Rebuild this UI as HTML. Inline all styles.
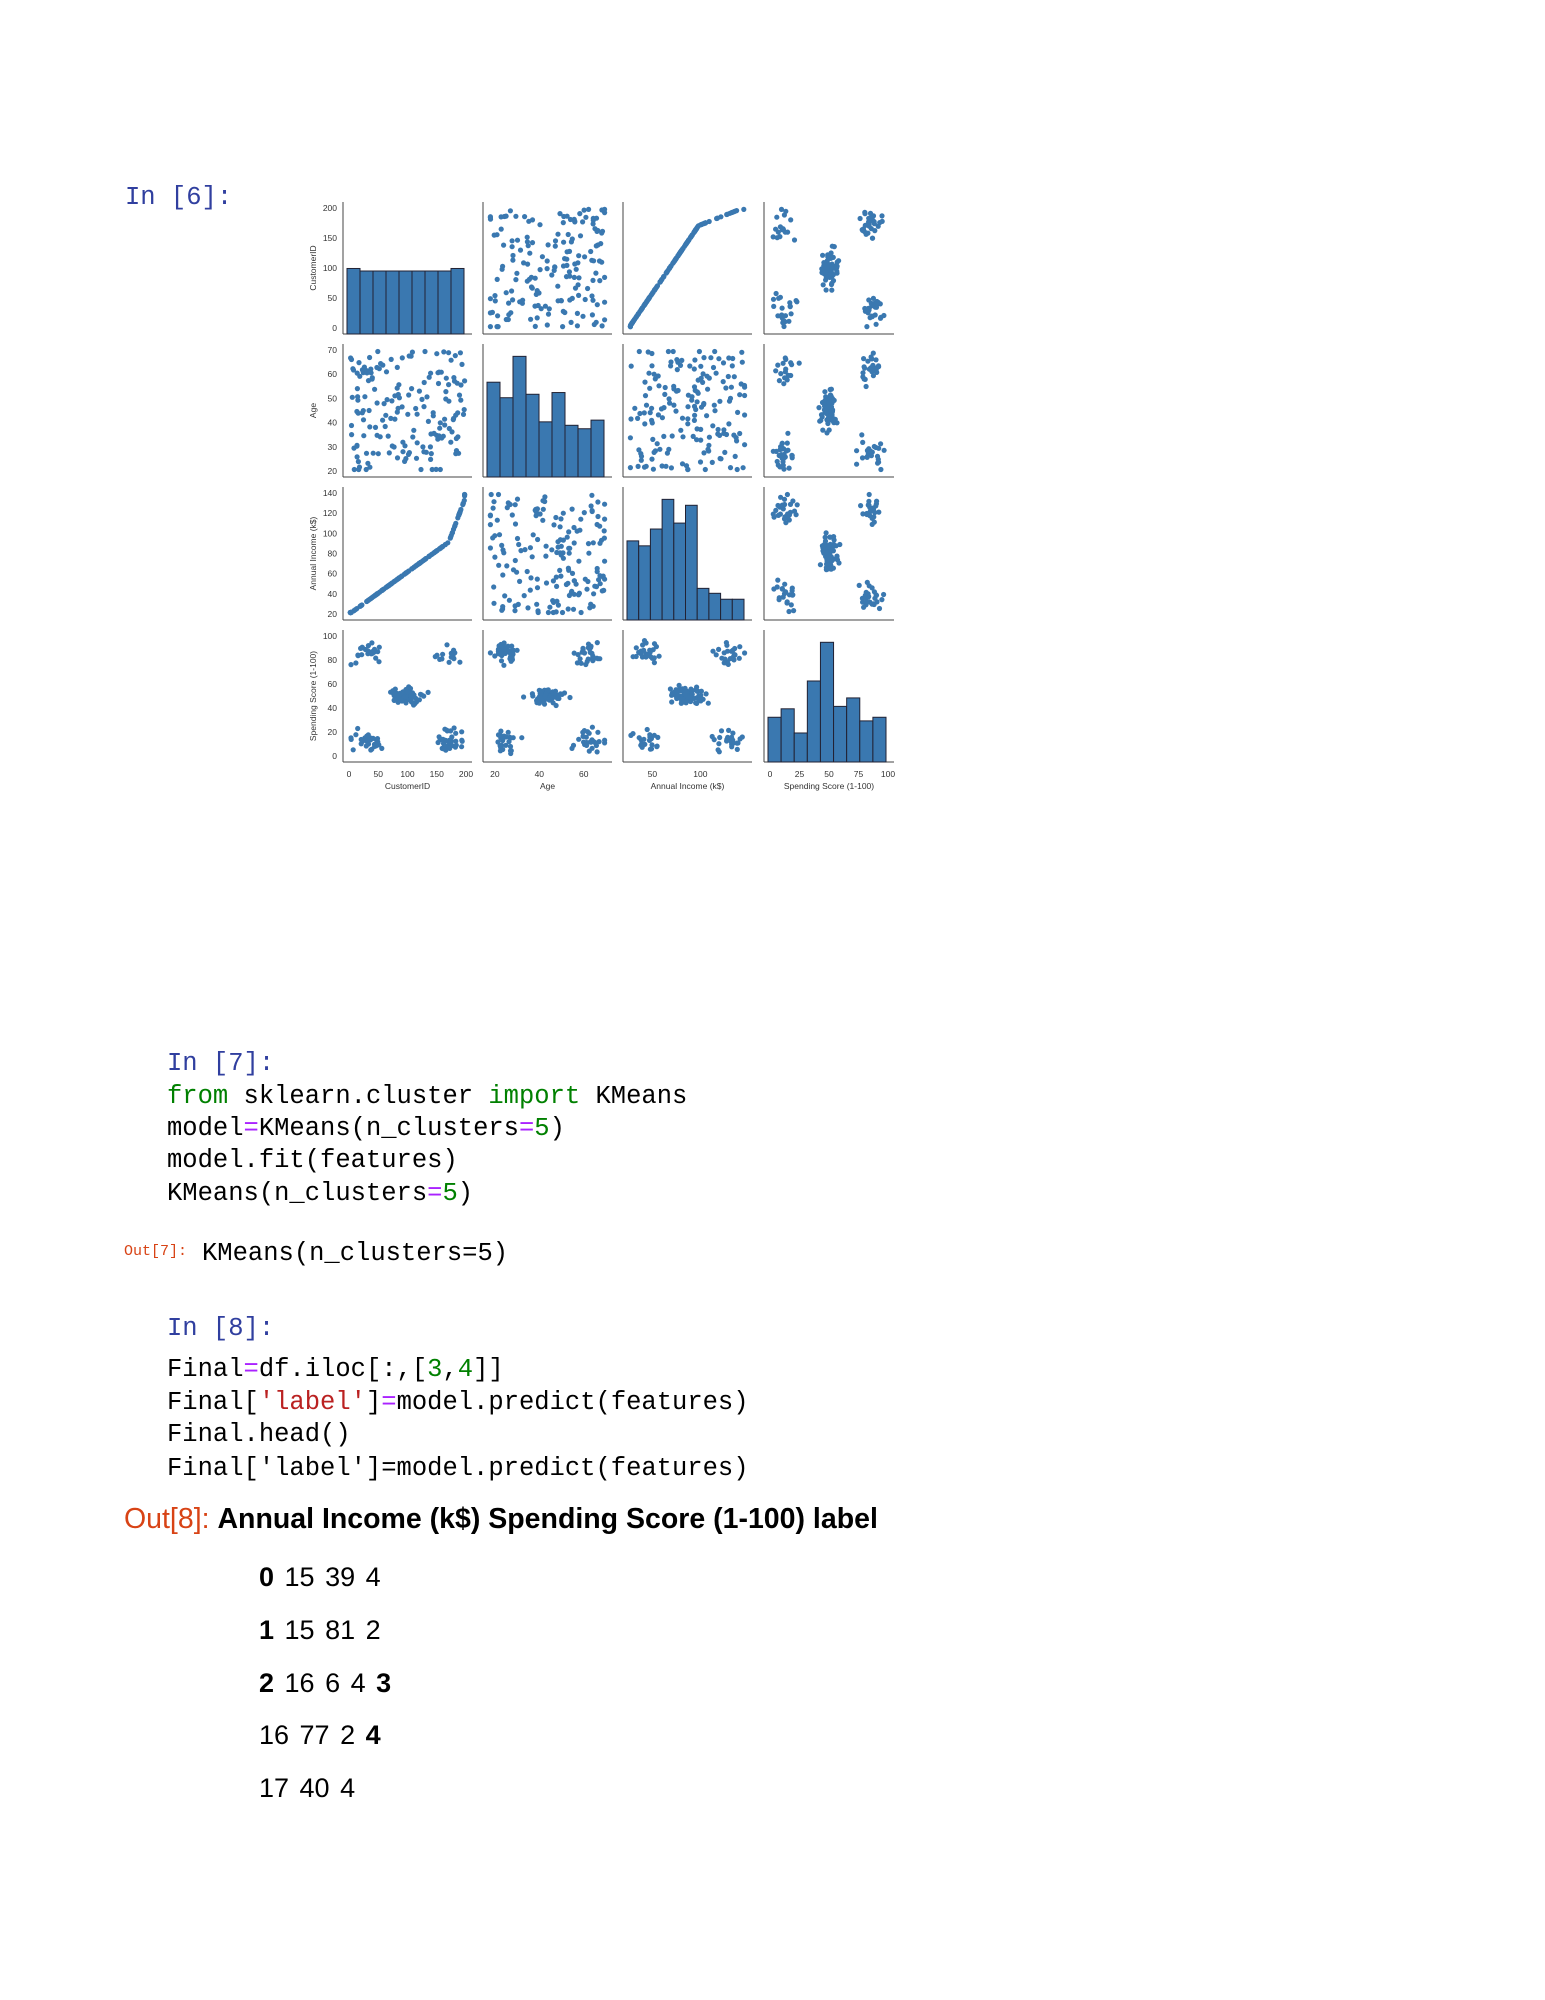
<!DOCTYPE html>
<html><head><meta charset="utf-8"><style>
body{margin:0;background:#fff;width:1545px;height:2000px;position:relative;overflow:hidden}
.t{position:absolute;white-space:pre;font-family:"Liberation Mono",monospace;font-size:25.5px;color:#000;line-height:32px}
.p{color:#303f9f}.g{color:#008000}.o{color:#aa22ff}.r{color:#ba2121}
.s{position:absolute;white-space:pre;font-family:"Liberation Sans",sans-serif;font-size:27px;line-height:32px;word-spacing:3px}
</style></head><body>
<div class="t p" style="left:125px;top:182px;">In [6]:</div>
<svg id="pp" width="1545" height="820" style="position:absolute;left:0;top:0"></svg>
<div class="t p" style="left:167px;top:1048px;">In [7]:</div>
<div class="t" style="left:167px;top:1081px;"><span class="g">from</span> sklearn.cluster <span class="g">import</span> KMeans</div>
<div class="t" style="left:167px;top:1113px;">model<span class="o">=</span>KMeans(n_clusters<span class="o">=</span><span class="g">5</span>)</div>
<div class="t" style="left:167px;top:1145px;">model.fit(features)</div>
<div class="t" style="left:167px;top:1178px;">KMeans(n_clusters<span class="o">=</span><span class="g">5</span>)</div>
<div class="t" style="left:124px;top:1236px;font-size:15px;color:#d84315">Out[7]:</div>
<div class="t" style="left:202px;top:1238px;">KMeans(n_clusters=5)</div>
<div class="t p" style="left:167px;top:1313px;">In [8]:</div>
<div class="t" style="left:167px;top:1354px;">Final<span class="o">=</span>df.iloc[:,[<span class="g">3</span>,<span class="g">4</span>]]</div>
<div class="t" style="left:167px;top:1387px;">Final[<span class="r">'label'</span>]<span class="o">=</span>model.predict(features)</div>
<div class="t" style="left:167px;top:1419px;">Final.head()</div>
<div class="t" style="left:167px;top:1453px;">Final['label']=model.predict(features)</div>
<div class="s" style="left:124px;top:1503px;font-size:28.5px;word-spacing:0"><span style="color:#d84315">Out[8]:</span> <b>Annual Income (k$) Spending Score (1-100) label</b></div>
<div class="s" style="left:259px;top:1561px;"><b>0</b> 15 39 4</div>
<div class="s" style="left:259px;top:1614px;"><b>1</b> 15 81 2</div>
<div class="s" style="left:259px;top:1667px;"><b>2</b> 16 6 4 <b>3</b></div>
<div class="s" style="left:259px;top:1719px;">16 77 2 <b>4</b></div>
<div class="s" style="left:259px;top:1772px;">17 40 4</div>
<script>
(function(){
var svg=document.getElementById('pp');var h='';
var cols=[[343,472],[483,612],[623,752],[764,894]];
var rows=[[202,334],[344,477],[487,620],[630,762]];
var seed=7;function R(){seed=(seed*16807)%2147483647;return seed/2147483647;}
function G(){return (R()+R()+R()-1.5)/1.5;}
var C='#3a78b0';
var hist=[[0.52,0.5,0.5,0.5,0.5,0.5,0.5,0.5,0.52],[55,46,70,48,32,49,30,28,33],[80,75,92,122,98,116,32,27,21,21],[37,44,24,67,99,46,53,34,37]];
var ticksY=[['200','150','100','50','0'],['70','60','50','40','30','20'],['140','120','100','80','60','40','20'],['100','80','60','40','20','0']];
var ticksX=[['0','50','100','150','200'],['20','40','60'],['50','100'],['0','25','50','75','100']];
var labs=['CustomerID','Age','Annual Income (k$)','Spending Score (1-100)'];
var CX=[0.13,0.13,0.85,0.85],CY=[0.15,0.85,0.15,0.85];
for(var r=0;r<4;r++)for(var c=0;c<4;c++){
 var x0=cols[c][0],x1=cols[c][1],y0=rows[r][0],y1=rows[r][1],w=x1-x0-6,hh=y1-y0-6;
 h+='<line x1="'+x0+'" y1="'+y0+'" x2="'+x0+'" y2="'+y1+'" stroke="#444" stroke-width="1"/>';
 h+='<line x1="'+x0+'" y1="'+y1+'" x2="'+x1+'" y2="'+y1+'" stroke="#444" stroke-width="1"/>';
 if(r==c){var d=hist[r],m=Math.max.apply(null,d),n=d.length,bw=(w-6)/n;
  for(var i=0;i<n;i++){var bh=(r==0?d[i]:d[i]/m*0.95)*hh;
   h+='<rect x="'+(x0+4+i*bw)+'" y="'+(y1-bh)+'" width="'+bw+'" height="'+bh+'" fill="'+C+'" stroke="#223" stroke-width="1"/>';}
 }else{
  for(var k=0;k<170;k++){var px,py;
   if(r==0&&c==2){var t=R();px=t<0.85?t*0.7:0.6+(t-0.85)*2.6;py=t;}
   else if(r==2&&c==0){var t=R();px=t;py=t<0.85?t*0.7:0.6+(t-0.85)*2.6;}
   else if(c==3||r==3){
    var cx,cy,sx,sy;
    if(R()<0.4){cx=0.5;cy=0.5;sx=0.1;sy=0.22;}
    else{var cl=Math.floor(R()*4);cx=CX[cl];cy=CY[cl];sx=0.14;sy=0.18;}
    px=cx+G()*sx;py=cy+G()*sy;
    if(c!=3&&r==3){var tmp=px;px=py;py=tmp;}
   } else {px=R();py=R();}
   px=Math.max(0.02,Math.min(0.98,px));py=Math.max(0.02,Math.min(0.98,py));
   h+='<circle cx="'+(x0+5+px*(w-4)).toFixed(1)+'" cy="'+(y1-5-py*(hh-4)).toFixed(1)+'" r="2.6" fill="'+C+'"/>';
  }
 }
 if(c==0){var ty=ticksY[r];for(var i=0;i<ty.length;i++){var yy=y0+6+i*(hh-6)/(ty.length-1);
  h+='<text x="'+(x0-6)+'" y="'+(yy+3)+'" font-size="8.5" text-anchor="end" fill="#333" font-family="Liberation Sans">'+ty[i]+'</text>';}
  var cy2=(y0+y1)/2;h+='<text x="'+(x0-27)+'" y="'+cy2+'" font-size="8.5" text-anchor="middle" fill="#333" font-family="Liberation Sans" transform="rotate(-90 '+(x0-27)+' '+cy2+')">'+labs[r]+'</text>';}
 if(r==3){var tx=ticksX[c];for(var i=0;i<tx.length;i++){var xx=x0+6+(c==1?i*0.38+0.05:c==2?i*0.41+0.2:i/(tx.length-1))*(w-6);
  h+='<text x="'+xx+'" y="'+(y1+15)+'" font-size="8.5" text-anchor="middle" fill="#333" font-family="Liberation Sans">'+tx[i]+'</text>';}
  h+='<text x="'+((x0+x1)/2)+'" y="'+(y1+27)+'" font-size="8.5" text-anchor="middle" fill="#333" font-family="Liberation Sans">'+labs[c]+'</text>';}
}
svg.innerHTML=h;
})();
</script>
</body></html>
